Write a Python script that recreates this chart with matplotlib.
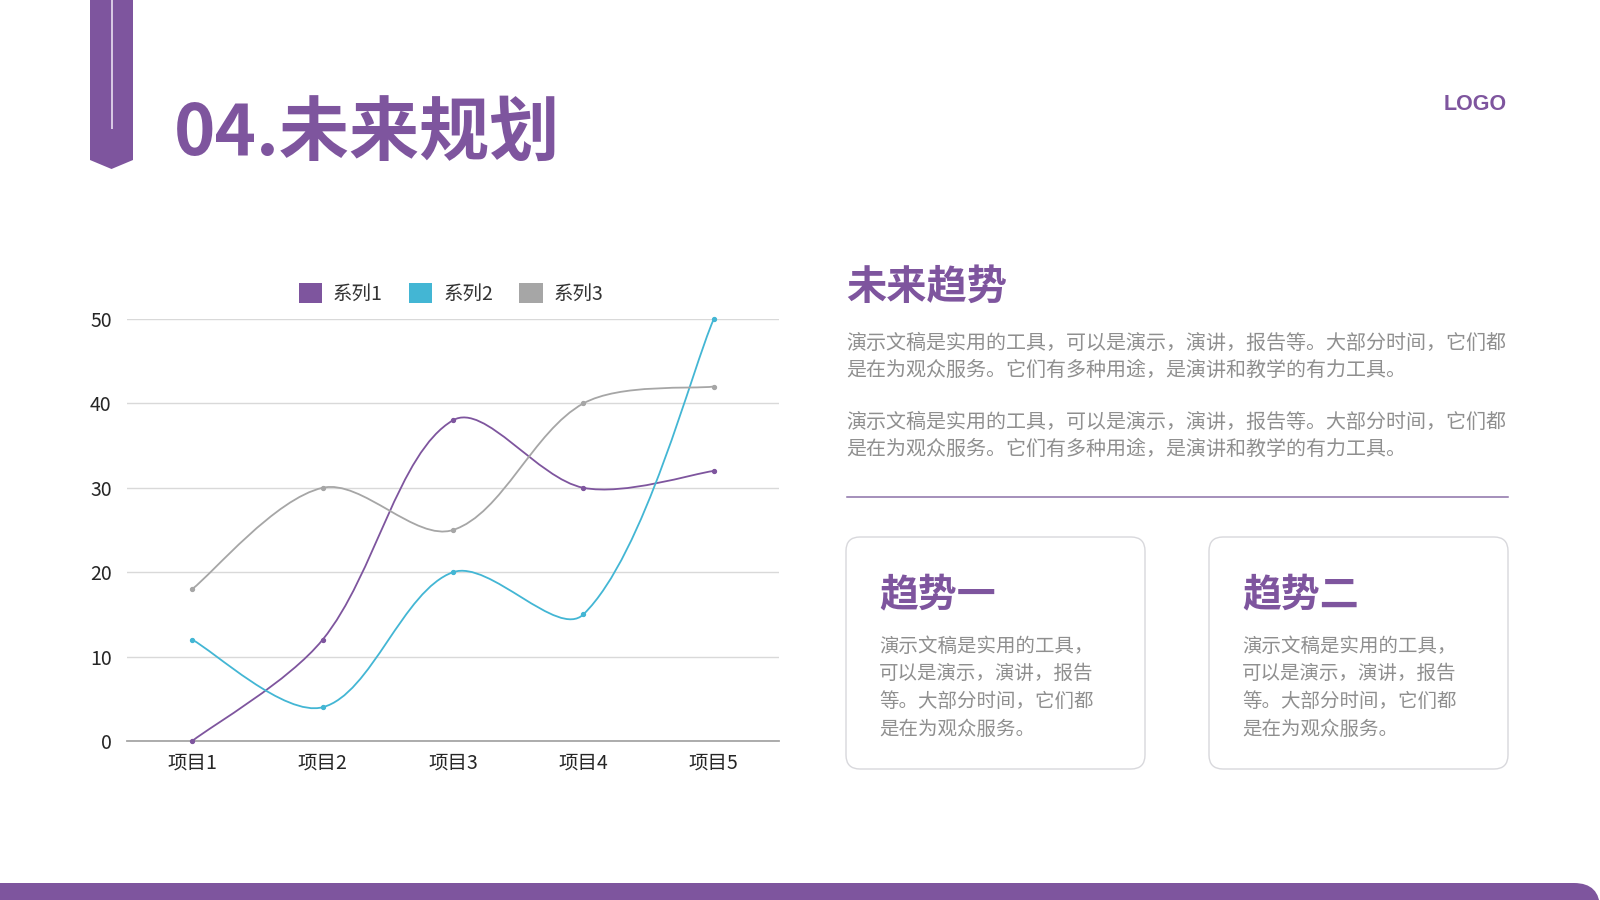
import matplotlib
matplotlib.use('Agg')
import matplotlib.pyplot as plt
from matplotlib.patches import Polygon, FancyBboxPatch, Patch, PathPatch
from matplotlib.path import Path
import numpy as np

plt.rcParams['font.family'] = ['Noto Sans CJK SC', 'DejaVu Sans']

# ---------------- data ----------------
categories = ['项目1', '项目2', '项目3', '项目4', '项目5']
series_names = ['系列1', '系列2', '系列3']
series1 = [0, 12, 38, 30, 32]
series2 = [12, 4, 20, 15, 50]
series3 = [18, 30, 25, 40, 42]
y_ticks = [0, 10, 20, 30, 40, 50]

title_text = '04.未来规划'
logo_text = 'LOGO'
heading_text = '未来趋势'
para_lines = ['演示文稿是实用的工具，可以是演示，演讲，报告等。大部分时间，它们都',
              '是在为观众服务。它们有多种用途，是演讲和教学的有力工具。']
box_titles = ['趋势一', '趋势二']
box_lines = ['演示文稿是实用的工具，', '可以是演示，演讲，报告',
             '等。大部分时间，它们都', '是在为观众服务。']

PURPLE = '#7E559E'
CYAN = '#43B6D4'
GRAY = '#A6A6A6'
TEXT_GRAY = '#8F8F8F'
series_colors = [PURPLE, CYAN, GRAY]

W, H = 1600, 900
fig = plt.figure(figsize=(16, 9), dpi=100)
fig.patch.set_facecolor('white')

# ---------------- background / decoration layer (pixel coords) ----------------
bg = fig.add_axes([0, 0, 1, 1], zorder=0)
bg.set_xlim(0, W)
bg.set_ylim(H, 0)
bg.axis('off')

bg.add_patch(Polygon([[90, 0], [133, 0], [133, 160], [111.5, 169], [90, 160]],
                     closed=True, facecolor=PURPLE, edgecolor='none'))
bg.plot([112, 112], [0, 129], color='#e9e0f1', lw=1.2, solid_capstyle='butt')

bg.text(174, 136, title_text, ha='left', va='center', fontsize=50.5,
        fontweight='bold', color=PURPLE)
bg.text(1507, 104, logo_text, ha='right', va='center', fontsize=15.5,
        fontweight='bold', color=PURPLE, family=['Liberation Sans', 'DejaVu Sans'])

# bottom bar
bg.add_patch(FancyBboxPatch((-60, 883), W + 60, 80,
                            boxstyle='round,pad=0,rounding_size=26',
                            facecolor=PURPLE, edgecolor='none'))

# right panel
bg.text(846, 287, heading_text, ha='left', va='center', fontsize=29,
        fontweight='bold', color=PURPLE)
for y0 in (343, 422):
    for k, line in enumerate(para_lines):
        bg.text(846, y0 + k * 27.5, line, ha='left', va='center',
                fontsize=14.4, color=TEXT_GRAY)
bg.plot([847, 1508], [497, 497], color='#8C72A8', lw=1.1)

for bx, title in zip((846, 1209), box_titles):
    bg.add_patch(FancyBboxPatch((bx, 537), 299, 232,
                                boxstyle='round,pad=0,rounding_size=14',
                                facecolor='white', edgecolor='#D8D8DC', lw=1.0))
    bg.text(bx + 33, 595, title, ha='left', va='center', fontsize=28,
            fontweight='bold', color=PURPLE)
    for k, line in enumerate(box_lines):
        bg.text(bx + 33, 646 + k * 27.7, line, ha='left', va='center',
                fontsize=14, color=TEXT_GRAY)

# ---------------- chart ----------------
L, R, T, B = 127, 779, 319, 741
ax = fig.add_axes([L / W, (H - B) / H, (R - L) / W, (B - T) / H], zorder=1)
ax.patch.set_alpha(0)
x = np.arange(len(categories))
ax.set_xlim(-0.5, len(categories) - 0.5)
ax.set_ylim(0, 50)
ax.set_yticks(y_ticks)
ax.set_xticks(x)
ax.set_xticklabels(categories)
ax.grid(axis='y', color='#D9D9D9', lw=1)
ax.set_axisbelow(True)
for s in ('top', 'right', 'left'):
    ax.spines[s].set_visible(False)
ax.spines['bottom'].set_color('#A6A6A6')
ax.spines['bottom'].set_linewidth(1.3)
ax.tick_params(axis='both', length=0, labelsize=14, colors='#262626')
ax.tick_params(axis='y', pad=11)
ax.tick_params(axis='x', pad=8.5)

# screen scale (pixels per data unit) used for length-weighted smoothing
sx = (R - L) / len(categories)
sy = (B - T) / (y_ticks[-1] - y_ticks[0])


def smooth_path(xs, ys):
    pts = np.column_stack([xs, ys]).astype(float)
    scr = pts * np.array([sx, sy])
    n = len(pts)
    d = np.hypot(*np.diff(scr, axis=0).T)  # segment lengths on screen
    out_c, in_c = [], []
    for i in range(n):
        if i == 0:
            tng = pts[1] - pts[0]
            out_c.append(pts[0] + tng / 6.0)
            in_c.append(pts[0])
        elif i == n - 1:
            tng = pts[-1] - pts[-2]
            in_c.append(pts[-1] - tng / 6.0)
            out_c.append(pts[-1])
        else:
            tng = pts[i + 1] - pts[i - 1]
            dp, dn = d[i - 1], d[i]
            out_c.append(pts[i] + tng * dn / (dp + dn) / 3.0)
            in_c.append(pts[i] - tng * dp / (dp + dn) / 3.0)
    verts = [pts[0]]
    codes = [Path.MOVETO]
    for i in range(n - 1):
        verts += [out_c[i], in_c[i + 1], pts[i + 1]]
        codes += [Path.CURVE4] * 3
    return Path(verts, codes)


for vals, col in zip([series1, series2, series3], series_colors):
    ax.add_patch(PathPatch(smooth_path(x, vals), facecolor='none', edgecolor=col,
                           lw=1.3, zorder=3, clip_on=False))
    ax.plot(x, vals, linestyle='none', marker='o', markersize=2.8, color=col,
            zorder=4, clip_on=False)

handles = [Patch(facecolor=c, edgecolor='none') for c in series_colors]
ax.legend(handles, series_names, loc='center', bbox_to_anchor=(0.497, 1.059),
          ncol=3, frameon=False, fontsize=14, handlelength=1.2, handleheight=1.2,
          handletextpad=0.55, columnspacing=1.35, labelcolor='#333333',
          borderpad=0, borderaxespad=0)

fig.savefig('out.png', dpi=100, facecolor='white')
